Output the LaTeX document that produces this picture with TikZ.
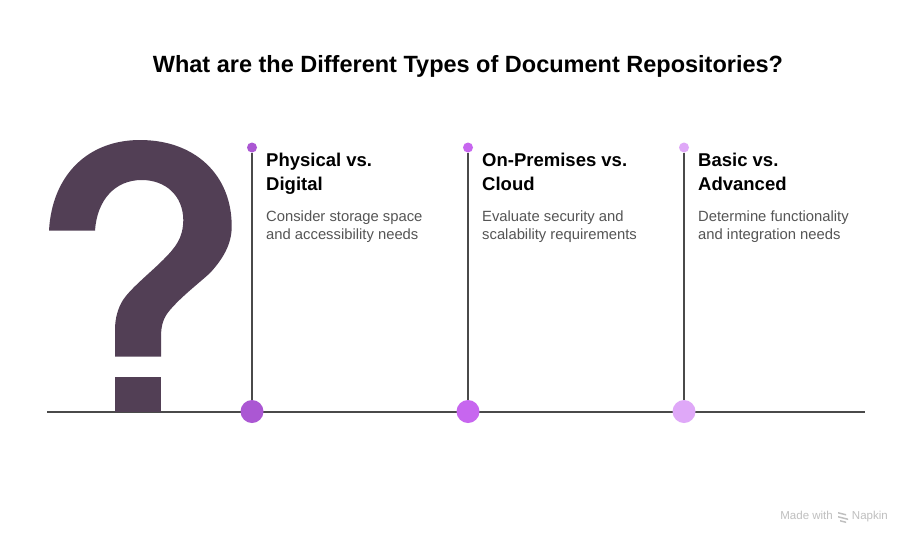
\documentclass[tikz,border=0pt]{standalone}
\usepackage{fontspec}
\setmainfont{Liberation Sans}
\definecolor{qmark}{HTML}{523F55}
\definecolor{axisc}{HTML}{4A4A4A}
\definecolor{bodyc}{HTML}{555555}
\definecolor{pa}{HTML}{AB57D3}
\definecolor{pb}{HTML}{C766EF}
\definecolor{pc}{HTML}{DFA8F8}
\tikzset{
  line/.style={draw=axisc,line width=2pt},
  bigdot/.style={circle,inner sep=0pt,minimum size=23pt,fill=#1},
  smalldot/.style={circle,inner sep=0pt,minimum size=10pt,fill=#1},
  head/.style={anchor=north west,align=left,inner sep=0pt,font=\fontsize{18.5}{24}\selectfont\bfseries,text=black},
  desc/.style={anchor=north west,align=left,inner sep=0pt,font=\fontsize{14.8}{18}\selectfont,text=bodyc},
}
\begin{document}
\begin{tikzpicture}[x=1pt,y=-1pt]
\useasboundingbox[fill=white] (0,0) rectangle (912,544);
\node[anchor=center,inner sep=0pt,font=\fontsize{23.5}{30}\selectfont\bfseries] (title) at (468,66.5) {What are the Different Types of Document Repositories?};
\coordinate (axl) at (47,411.5);
\coordinate (axr) at (865,411.5);
\draw[line] (axl) -- (axr);
\fill[qmark] (49,230.7) .. controls (52,175) and (88,140) .. (140,140)
  .. controls (195,140) and (232,175) .. (231.7,226.7)
  .. controls (231.7,245) and (222,260) .. (210,273)
  .. controls (198,284) and (182,296) .. (170,310)
  .. controls (164,317) and (161,324) .. (161,337)
  -- (161,356.7) -- (115,356.7) -- (115,330)
  .. controls (115,318) and (118,308) .. (123,300)
  .. controls (131,288) and (150,273) .. (163,260)
  .. controls (176,247) and (183,238) .. (183.3,220)
  .. controls (183,195) and (165,180) .. (141.7,180)
  .. controls (115,180) and (97,200) .. (95,230.7) -- cycle;
\fill[qmark] (115,376.7) rectangle (161,411.7);
\node[bigdot=pa] (b1) at (252,411.5) {};
\node[bigdot=pb] (b2) at (468,411.5) {};
\node[bigdot=pc] (b3) at (684,411.5) {};
\node[smalldot=pa] (s1) at (252,147.5) {};
\node[smalldot=pb] (s2) at (468,147.5) {};
\node[smalldot=pc] (s3) at (684,147.5) {};
\draw[line] (s1) -- (b1);
\draw[line] (s2) -- (b2);
\draw[line] (s3) -- (b3);
\node[head] (h1) at (266,153) {Physical vs.\\Digital};
\node[head] (h2) at (482,153) {On-Premises vs.\\Cloud};
\node[head] (h3) at (698,153) {Basic vs.\\Advanced};
\node[desc] (d1) at (266,211) {Consider storage space\\and accessibility needs};
\node[desc] (d2) at (482,211) {Evaluate security and\\scalability requirements};
\node[desc] (d3) at (698,211) {Determine functionality\\and integration needs};
\node[anchor=east,inner sep=0pt,font=\fontsize{11.5}{14}\selectfont,text=black!25] (nap) at (888,517) {Made with \hspace{16pt}Napkin};
\fill[black!25] (838,512) -- (846,514) -- (846,515.5) -- (838,513.5) -- cycle
  (838,516) -- (848,518.5) -- (848,520) -- (838,517.5) -- cycle
  (840,520) -- (846,521.5) -- (846,523) -- (840,521.5) -- cycle;
\end{tikzpicture}
\end{document}
